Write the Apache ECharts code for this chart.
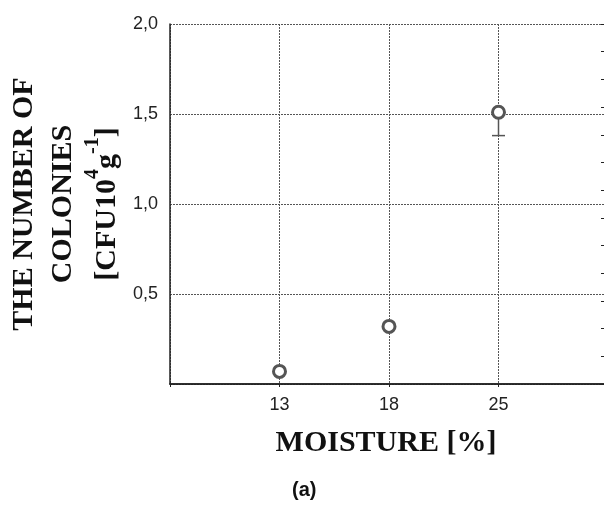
<!DOCTYPE html>
<html>
<head>
<meta charset="utf-8">
<script src="https://cdn.jsdelivr.net/npm/echarts@6/dist/echarts.min.js"></script>
<style>html,body{margin:0;padding:0;background:#fff;overflow:hidden}#c{width:604px;height:506px}</style>
</head>
<body>
<div id="c"></div>
<script>
var axisCategories = ['', '13', '18', '25', ''];
var moisture = ['13', '18', '25'];
var colonies = [0.07, 0.32, 1.51];
var errLower = [0, 0, 0.13];
var yTickLabels = {0.5: '0,5', 1: '1,0', 1.5: '1,5', 2: '2,0'};

var chart = echarts.init(document.getElementById('c'), null, {renderer: 'canvas'});
var pts = moisture.map(function (m, i) { return [m, colonies[i]]; });
var errs = moisture.map(function (m, i) { return [m, colonies[i], colonies[i] - errLower[i]]; });

var gridCol = '#555';
chart.setOption({
  animation: false,
  backgroundColor: '#fff',
  grid: {left: 170, right: -4, top: 24, bottom: 122, containLabel: false, outerBoundsMode: 'none'},
  xAxis: [{
    type: 'category', data: axisCategories, boundaryGap: false,
    axisLine: {lineStyle: {color: '#222', width: 1.5}},
    axisTick: {show: true, inside: false, length: 3, lineStyle: {color: '#222'}},
    axisLabel: {fontFamily: 'Liberation Sans', fontSize: 18, color: '#222', margin: 12, interval: 0},
    splitLine: {show: true, lineStyle: {color: gridCol, type: [2, 1], width: 1}},
    name: 'MOISTURE [%]', nameLocation: 'middle', nameGap: 44,
    nameTextStyle: {fontFamily: 'Liberation Serif', fontWeight: 'bold', fontSize: 30, color: '#111', padding: [0, 6, 0, 0]}
  }, {
    type: 'category', data: axisCategories, boundaryGap: false, position: 'top',
    axisLine: {lineStyle: {color: '#222', width: 1.5}},
    axisTick: {show: true, inside: true, length: 3, lineStyle: {color: '#222'}},
    axisLabel: {show: false}, splitLine: {show: false}
  }],
  yAxis: [{
    type: 'value', min: 0, max: 2, interval: 0.5,
    axisLine: {show: true, lineStyle: {color: '#222', width: 1.5}},
    axisTick: {show: false},
    axisLabel: {fontFamily: 'Liberation Sans', fontSize: 18, color: '#222', margin: 12,
      formatter: function (v) { return yTickLabels[v] || ''; }},
    splitLine: {show: true, lineStyle: {color: gridCol, type: [2, 1], width: 1}},
    name: 'THE NUMBER OF\nCOLONIES\n{b|[CFU10}{s|4}{b|g}{s|-1}{b|]}',
    nameLocation: 'middle', nameRotate: 90, nameGap: 45,
    nameTextStyle: {fontFamily: 'Liberation Serif', fontWeight: 'bold', fontSize: 30, color: '#111', lineHeight: 39,
      rich: {
        b: {fontFamily: 'Liberation Serif', fontWeight: 'bold', fontSize: 30, color: '#111', verticalAlign: 'bottom'},
        s: {fontFamily: 'Liberation Serif', fontWeight: 'bold', fontSize: 20, color: '#111', verticalAlign: 'top', padding: [0, 0, 14, 0]}
      }}
  }, {
    type: 'value', min: 0, max: 13, interval: 1, position: 'right',
    axisLine: {show: false},
    axisTick: {show: true, inside: true, length: 7, lineStyle: {color: '#222'}},
    axisLabel: {show: false}, splitLine: {show: false}
  }],
  series: [{
    type: 'custom',
    data: errs,
    z: 2,
    renderItem: function (params, api) {
      var top = api.coord([api.value(0), api.value(1)]);
      var bot = api.coord([api.value(0), api.value(2)]);
      if (Math.abs(top[1] - bot[1]) < 0.5) return null;
      return {type: 'group', children: [
        {type: 'line', shape: {x1: top[0], y1: top[1], x2: bot[0], y2: bot[1]}, style: {stroke: '#555', lineWidth: 1.5}},
        {type: 'line', shape: {x1: bot[0] - 6.5, y1: bot[1], x2: bot[0] + 6.5, y2: bot[1]}, style: {stroke: '#555', lineWidth: 1.5}}
      ]};
    }
  }, {
    type: 'scatter',
    data: pts,
    z: 5,
    symbol: 'circle', symbolSize: 12,
    itemStyle: {color: '#fff', borderColor: '#555', borderWidth: 3, opacity: 1}
  }],
  graphic: [{
    type: 'text', left: 292, top: 480,
    style: {text: '(a)', fontFamily: 'Liberation Sans', fontWeight: 'bold', fontSize: 20, fill: '#111'}
  }]
});
</script>
</body>
</html>
